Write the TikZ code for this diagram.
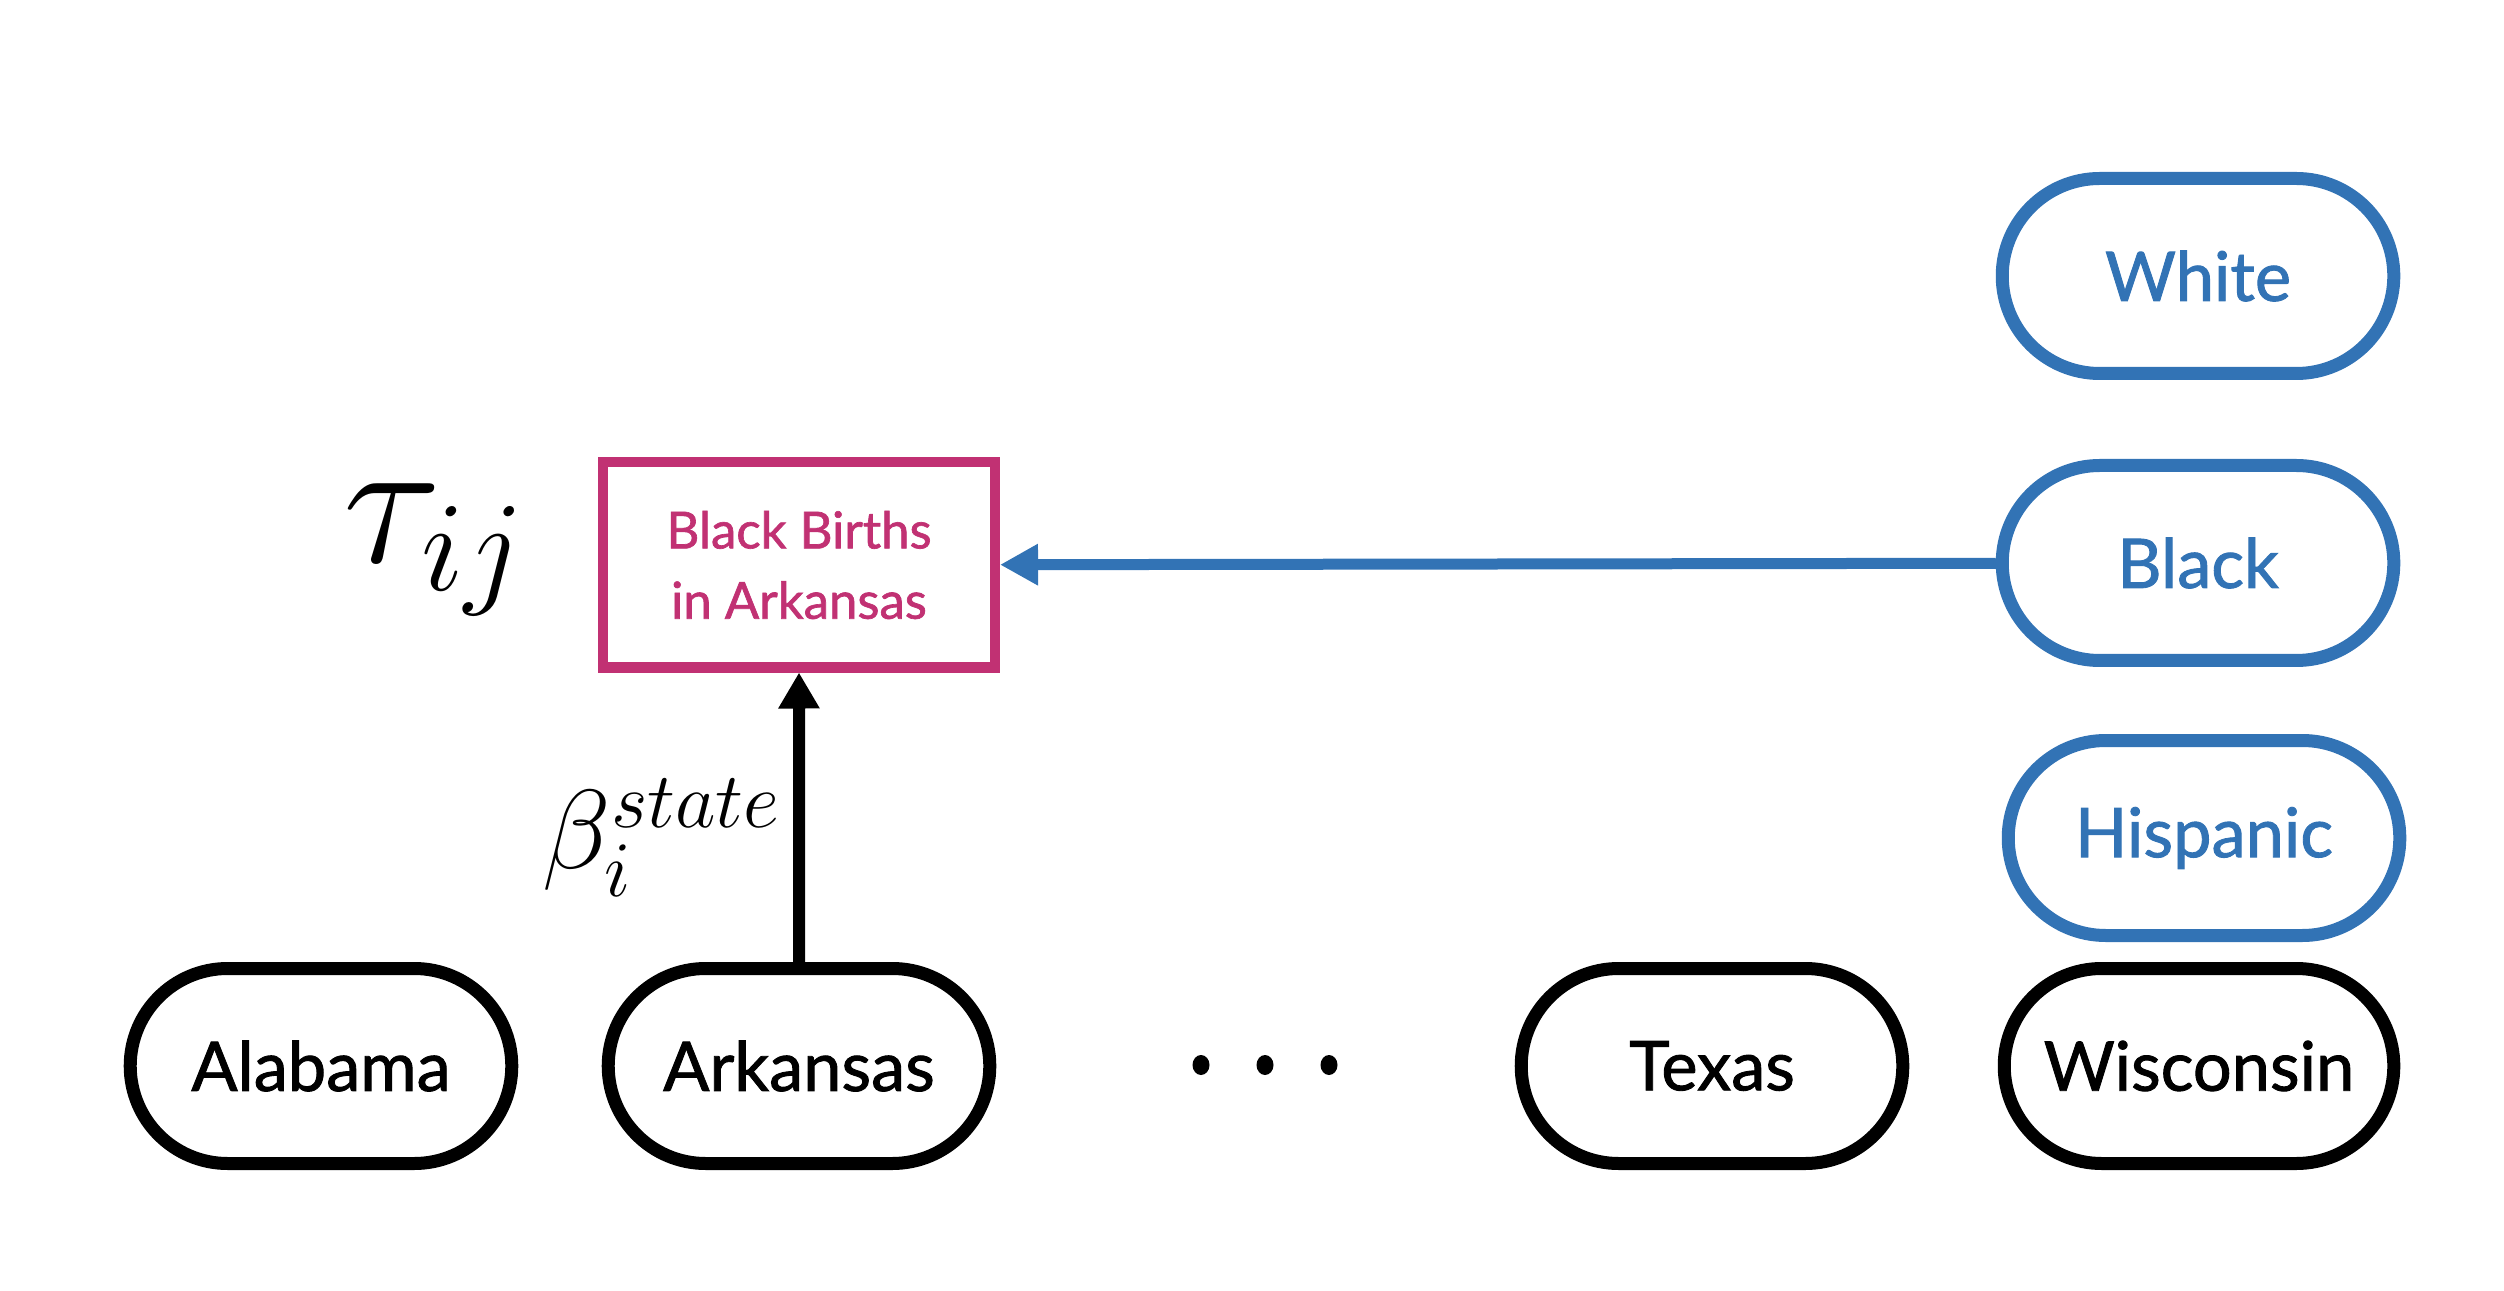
\RequirePackage{fix-cm}
\documentclass[tikz,border=0pt]{standalone}
\usepackage{fontspec}
\setmainfont{Lato}[RawFeature={embolden=1.3}]
\usetikzlibrary{arrows.meta,shapes.misc}
\definecolor{birthpink}{RGB}{193,49,115}
\definecolor{raceblue}{RGB}{50,115,181}
\begin{document}
\begin{tikzpicture}[
    statenode/.style={draw, rounded rectangle, line width=0.13cm, minimum width=4.05cm, minimum height=1.95cm, font=\fontsize{19.5}{23}\selectfont},
    racenode/.style={statenode, draw=raceblue, text=raceblue, minimum width=4.15cm},
  ]
  \useasboundingbox (0,0) rectangle (25.04,12.90);
  % states along the bottom
  \node[statenode] (alabama) at (3.21,2.24) {Alabama};
  \node[statenode] (arkansas) at (7.99,2.24) {Arkansas};
  \node[statenode] (texas) at (17.12,2.24) {Texas};
  \node[statenode, minimum width=4.13cm] (wisconsin) at (21.99,2.24) {Wisconsin};
  \foreach \x in {12.01,12.65,13.29} \fill (\x,2.25) ellipse (0.085 and 0.1);
  % race groups on the right
  \node[racenode] (hispanic) at (22.04,4.52) {Hispanic};
  \node[racenode] (black) at (21.98,7.27) {Black};
  \node[racenode] (white) at (21.98,10.14) {White};
  % outcome
  \node[draw=birthpink, text=birthpink, line width=0.1cm, minimum width=3.92cm, minimum height=2.05cm, align=center, font=\fontsize{14.5}{20}\selectfont] (outcome) at (7.99,7.25) {Black Births\\in Arkansas};
  \node[anchor=base west, inner sep=0pt] (tau) at (3.43,7.27) {\fontsize{52}{60}\selectfont $\tau_{ij}$};
  \draw[-{Triangle[length=0.36cm,width=0.39cm]}, line width=0.12cm] (arkansas) -- (outcome)
      node[pos=0.43, left=0.07cm, inner sep=0.05cm] (beta) {\fontsize{32}{38}\selectfont $\beta_i^{state}$};
  \draw[-{Triangle[length=0.38cm,width=0.39cm]}, line width=0.11cm, raceblue] (black) -- (outcome);
\end{tikzpicture}
\end{document}
